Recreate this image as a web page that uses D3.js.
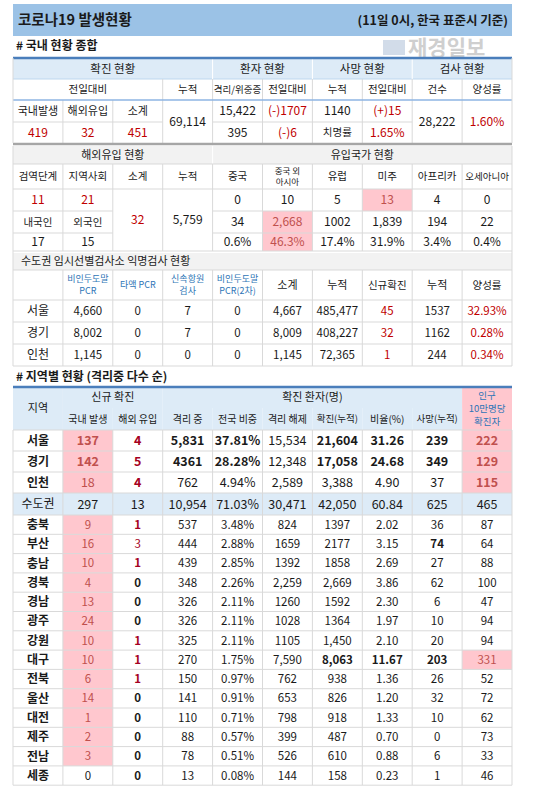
<!DOCTYPE html>
<html><head><meta charset="utf-8">
<script src="https://cdn.jsdelivr.net/npm/d3@7"></script>
<style>body{margin:0;background:#fff}svg{display:block}text{font-family:"Noto Sans CJK KR","Noto Sans",sans-serif}</style>
</head><body><svg id="c" width="548" height="793"></svg>
<script>
// ---------- data ----------
const titleText = "코로나19 발생현황";
const dateText = "(11일 0시, 한국 표준시 기준)";
const sec1Title = "# 국내 현황 종합";
const sec1Groups = ["확진 현황","환자 현황","사망 현황","검사 현황"];
const sec1Heads = ["전일대비","누적","격리/위중증","전일대비","누적","전일대비","건수","양성률"];
const newLabels = ["국내발생","해외유입","소계"];
const newValues = ["419","32","451"];
const totalConfirmed = "69,114";
const isolated = ["15,422","395"];
const isolatedDiff = ["(-)1707","(-)6"];
const deaths = "1140", deathDiff = "(+)15", fatalityLabel = "치명률", fatality = "1.65%";
const tests = "28,222", positivity = "1.60%";

const sec2Groups = ["해외유입 현황","유입국가 현황"];
const sec2Heads = ["검역단계","지역사회","소계","누적","중국","중국 외|아시아","유럽","미주","아프리카","오세아니아"];
const importStage = ["11","21"], importNat = ["내국인","외국인"], importNatVal = ["17","15"];
const importSub = "32", importCum = "5,759";
const originNew = ["0","10","5","13","4","0"];
const originCum = ["34","2,668","1002","1,839","194","22"];
const originPct = ["0.6%","46.3%","17.4%","31.9%","3.4%","0.4%"];

const sec3Title = "수도권 임시선별검사소 익명검사 현황";
const sec3Heads = ["","비인두도말|PCR","타액 PCR","신속항원|검사","비인두도말|PCR(2차)","소계","누적","신규확진","누적","양성률"];
const sec3Rows = [
 ["서울","4,660","0","7","0","4,667","485,477","45","1537","32.93%"],
 ["경기","8,002","0","7","0","8,009","408,227","32","1162","0.28%"],
 ["인천","1,145","0","0","0","1,145","72,365","1","244","0.34%"]];

const sec4Title = "# 지역별 현황 (격리중 다수 순)";
const sec4Heads = ["국내 발생","해외 유입","격리 중","전국 비중","격리 해제","확진(누적)","비율(%)","사망(누적)"];
const regions = ["서울","경기","인천","수도권","충북","부산","충남","경북","경남","광주","강원","대구","전북","울산","대전","제주","전남","세종"];
const domestic = [137,142,18,297,9,16,10,4,13,24,10,10,6,14,1,2,3,0];
const imported = [4,5,4,13,1,3,1,0,0,0,1,1,1,0,0,0,0,0];
const inIsolation = ["5,831","4361","762","10,954","537","444","439","348","326","326","325","270","150","141","110","88","78","13"];
const shareNat = ["37.81%","28.28%","4.94%","71.03%","3.48%","2.88%","2.85%","2.26%","2.11%","2.11%","2.11%","1.75%","0.97%","0.91%","0.71%","0.57%","0.51%","0.08%"];
const released = ["15,534","12,348","2,589","30,471","824","1659","1392","2,259","1260","1028","1105","7,590","762","653","798","399","526","144"];
const cumConfirmed = ["21,604","17,058","3,388","42,050","1397","2177","1858","2,669","1592","1364","1,450","8,063","938","826","918","487","610","158"];
const ratio = ["31.26","24.68","4.90","60.84","2.02","3.15","2.69","3.86","2.30","1.97","2.10","11.67","1.36","1.20","1.33","0.70","0.88","0.23"];
const cumDeaths = ["239","349","37","625","36","74","27","62","6","10","20","203","26","32","10","0","6","1"];
const per100k = ["222","129","115","465","87","64","88","100","47","94","94","331","52","72","62","73","33","46"];

// ---------- drawing ----------
const svg = d3.select("#c");
const X0=13, X1=512;
const x = d3.scaleLinear().domain([0,10]).range([X0,X1]);
const C = {blue:"#9bc2e6", lb:"#ddebf7", gray:"#f2f2f2", pink:"#ffc7ce", red:"#c00000", dred:"#c0504d", txt:"#1a1a1a", grid:"#d9d9d9", hblue:"#2e75b6", line:"#4a7ebb"};

function cell(c,y,cs,h,txt,o={}){
  const x1=x(c), w=x(c+cs)-x1;
  if(o.bg) svg.append("rect").attr("x",x1).attr("y",y).attr("width",w).attr("height",h).attr("fill",o.bg);
  if(txt===""||txt==null) return;
  const lines=String(txt).split("|"), fs=o.fs||12, lh=fs*(o.lh||1.3);
  const t=svg.append("text").attr("font-size",fs).attr("font-weight",o.bold?"bold":"normal")
    .attr("fill",o.col||C.txt).attr("text-anchor",o.left?"start":"middle");
  lines.forEach((l,i)=>t.append("tspan").attr("x",o.left?x1+8:x1+w/2)
    .attr("y",y+h/2+(i-(lines.length-1)/2)*lh).attr("dy","0.36em").text(l));
}
function hline(y,col,sw,a=0,b=10){svg.append("line").attr("x1",x(a)).attr("x2",x(b)).attr("y1",y).attr("y2",y).attr("stroke",col).attr("stroke-width",sw);}
function vline(c,y1,y2,col=C.grid){svg.append("line").attr("x1",x(c)).attr("x2",x(c)).attr("y1",y1).attr("y2",y2).attr("stroke",col).attr("stroke-width",1);}

// title
svg.append("rect").attr("x",X0).attr("y",4).attr("width",X1-X0).attr("height",32).attr("fill",C.blue);
svg.append("text").attr("x",X0+5).attr("y",25).attr("font-size",14.5).attr("font-weight","bold").attr("fill",C.txt).text(titleText);
svg.append("text").attr("x",X1-4).attr("y",25).attr("text-anchor","end").attr("font-size",12.5).attr("font-weight","bold").attr("fill",C.txt).text(dateText);
svg.append("text").attr("x",16).attr("y",50).attr("font-size",12).attr("font-weight","bold").attr("fill",C.txt).text(sec1Title);
// watermark
svg.append("rect").attr("x",383).attr("y",40).attr("width",22).attr("height",15).attr("fill","#c7d3e3").attr("opacity",0.8);
svg.append("text").attr("x",408).attr("y",55).attr("font-size",21).attr("font-weight","bold").attr("fill","#cfcfcf").text("재경일보");

// ===== section 1 =====
let y=58;
cell(0,y,4,21,sec1Groups[0],{bg:C.lb,fs:11.5});cell(4,y,2,21,sec1Groups[1],{bg:C.lb,fs:11.5});cell(6,y,2,21,sec1Groups[2],{bg:C.lb,fs:11.5});cell(8,y,2,21,sec1Groups[3],{bg:C.lb,fs:11.5});
y=79;
cell(0,y,3,21,sec1Heads[0],{fs:10.5});
sec1Heads.slice(1).forEach((h,i)=>cell(3+i,y,1,21,h,{fs:h.length>4?9.5:10.5}));
y=100;
newLabels.forEach((l,i)=>cell(i,y,1,22,l,{fs:11}));
newValues.forEach((v,i)=>cell(i,122,1,21,v,{col:C.red}));
cell(3,y,1,43,totalConfirmed);
cell(4,y,1,22,isolated[0]);cell(4,122,1,21,isolated[1]);
cell(5,y,1,22,isolatedDiff[0],{col:C.red});cell(5,122,1,21,isolatedDiff[1],{col:C.red});
cell(6,y,1,22,deaths);cell(7,y,1,22,deathDiff,{col:C.red});
cell(6,122,1,21,fatalityLabel,{fs:10.5});cell(7,122,1,21,fatality,{col:C.red});
cell(8,y,1,43,tests);cell(9,y,1,43,positivity,{col:C.red});
hline(79,"#bdd7ee",1);hline(122,C.grid,1,0,3);hline(122,C.grid,1,4,8);
[4,6,8].forEach(c=>vline(c,58,79,"#fff"));
[3,4,5,6,7,8,9].forEach(c=>vline(c,79,143));[1,2].forEach(c=>vline(c,100,143));
hline(100,"#8eb4e3",1.5);
hline(58,C.line,2.5);hline(144,"#a6a6a6",2.5);

// ===== section 2 =====
y=146;
cell(0,y,4,18,sec2Groups[0],{bg:C.gray,fs:11});cell(4,y,6,18,sec2Groups[1],{bg:C.gray,fs:11});
sec2Heads.forEach((h,i)=>cell(i,164,1,25,h,{fs:h.includes("|")?8.5:(h.length>4?9.5:10.5),lh:1.35}));
const r2=[189,211,233], h2=[22,22,18];
cell(0,r2[0],1,h2[0],importStage[0],{col:C.red});cell(1,r2[0],1,h2[0],importStage[1],{col:C.red});
cell(0,r2[1],1,h2[1],importNat[0],{fs:10.5});cell(1,r2[1],1,h2[1],importNat[1],{fs:10.5});
cell(0,r2[2],1,h2[2],importNatVal[0]);cell(1,r2[2],1,h2[2],importNatVal[1]);
cell(2,r2[0],1,62,importSub,{col:C.red});cell(3,r2[0],1,62,importCum);
[originNew,originCum,originPct].forEach((arr,ri)=>arr.forEach((v,i)=>{
  const pk=(ri===0&&i===3)||(ri>0&&i===1);
  cell(4+i,r2[ri],1,h2[ri],v,{bg:pk?C.pink:null,col:pk?C.dred:C.txt});
}));
d3.range(1,10).forEach(c=>vline(c,164,251));vline(4,146,164,"#fff");
hline(164,C.grid,1);hline(189,C.grid,1);hline(211,C.grid,1,4,10);hline(233,C.grid,1,4,10);hline(211,C.grid,1,0,2);hline(233,C.grid,1,0,2);
hline(251,C.grid,1);

// ===== section 3 =====
cell(0,253,10,17,sec3Title,{bg:C.gray,left:true,fs:11});
sec3Heads.forEach((h,i)=>cell(i,270,1,30,h,{fs:i>=1&&i<=4?9:(h.length>2?10.5:11),lh:1.35,col:i>=1&&i<=4?C.hblue:C.txt}));
sec3Rows.forEach((row,ri)=>row.forEach((v,i)=>cell(i,300+ri*22,1,22,v,{col:(i===7||i===9)?C.red:C.txt,fs:i===0?12:11.5})));
d3.range(1,10).forEach(c=>vline(c,270,366));
[270,300,322,344,366].forEach(yy=>hline(yy,C.grid,1));

// ===== section 4 =====
svg.append("text").attr("x",16).attr("y",381).attr("font-size",12).attr("font-weight","bold").attr("fill",C.txt).text(sec4Title);
cell(0,387,1,43,"지역",{bg:C.lb,fs:11});
cell(1,387,2,21,"신규 확진",{bg:C.lb,fs:11});
cell(3,387,6,21,"확진 환자(명)",{bg:C.lb,fs:11});
cell(9,387,1,43,"인구|10만명당|확진자",{bg:C.pink,fs:9.5,lh:1.35,col:C.hblue});
sec4Heads.forEach((h,i)=>cell(1+i,408,1,22,h,{bg:C.lb,fs:h.length>5?9.5:10}));
hline(387,C.line,2.5);
const hts=regions.map((r,i)=>i<3?21:(i===3?22:19.3));
let ys=[430]; hts.forEach(h=>ys.push(ys[ys.length-1]+h));
const bigBold=[0,1], pink9=[0,1,2,11];
regions.forEach((r,i)=>{
  const y0=ys[i], h=hts[i], cap=i===3;
  if(cap) svg.append("rect").attr("x",X0).attr("y",y0).attr("width",X1-X0).attr("height",h).attr("fill",C.lb);
  const bb=bigBold.includes(i), fsM=i<4?12.5:11.5;
  cell(0,y0,1,h,r,{bold:!cap,fs:12});
  cell(1,y0,1,h,domestic[i],{bg:(!cap&&domestic[i]>0)?C.pink:null,col:cap?C.txt:(domestic[i]>0?C.dred:C.txt),bold:bb,fs:fsM});
  cell(2,y0,1,h,imported[i],{col:cap?C.txt:(imported[i]>0?"#a50021":C.txt),bold:!cap&&i!==5,fs:fsM});
  cell(3,y0,1,h,inIsolation[i],{bold:bb,fs:fsM});
  cell(4,y0,1,h,shareNat[i],{bold:bb,fs:fsM});
  cell(5,y0,1,h,released[i],{fs:fsM});
  cell(6,y0,1,h,cumConfirmed[i],{bold:bb||i===11,fs:fsM});
  cell(7,y0,1,h,ratio[i],{bold:bb||i===11,fs:fsM});
  cell(8,y0,1,h,cumDeaths[i],{bold:bb||i===5||i===11,fs:fsM});
  const p9=pink9.includes(i);
  cell(9,y0,1,h,per100k[i],{bg:p9?C.pink:null,col:p9?C.dred:C.txt,bold:p9&&i!==11,fs:fsM});
});
d3.range(1,10).forEach(c=>vline(c,ys[0],ys[ys.length-1]));
ys.forEach(yy=>hline(yy,C.grid,1));
vline(0,146,366);vline(10,146,366);vline(0,430,ys[ys.length-1]);vline(10,430,ys[ys.length-1]);
vline(0,58,143);vline(10,58,143);
</script></body></html>
